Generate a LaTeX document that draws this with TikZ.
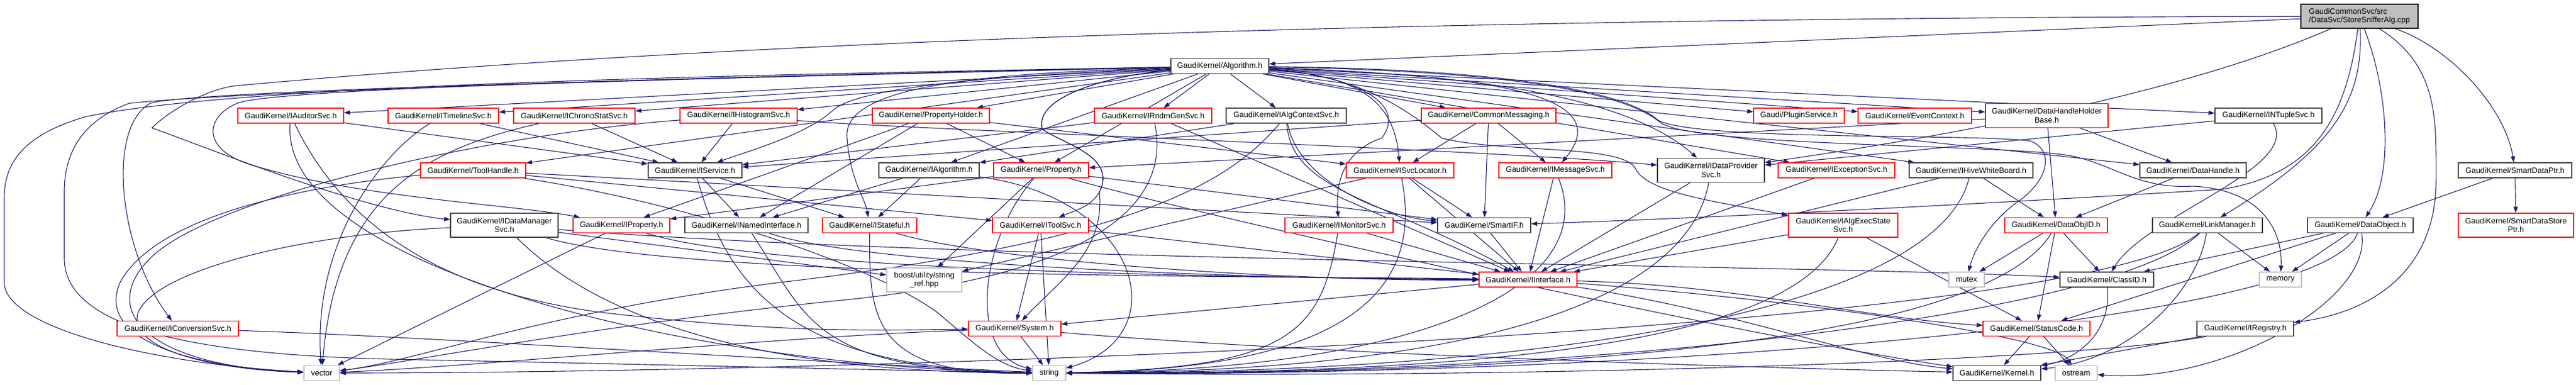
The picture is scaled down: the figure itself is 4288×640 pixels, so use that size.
\documentclass[tikz,border=0pt]{standalone}
\usepackage{fontspec}
\setmainfont{Liberation Sans}
\usetikzlibrary{arrows.meta}
\pgfdeclarelayer{bg}
\pgfsetlayers{bg,main}
\definecolor{edgec}{HTML}{191970}
\definecolor{redb}{HTML}{FF0000}
\definecolor{blkb}{HTML}{404040}
\definecolor{gryb}{HTML}{BFBFBF}
\tikzset{
  bx/.style={draw, line width=1.3pt, fill=white, inner sep=0pt, minimum height=25pt, font=\fontsize{13}{14.5}\selectfont, align=center},
  rb/.style={bx, draw=redb},
  kb/.style={bx, draw=blkb},
  gb/.style={bx, draw=gryb},
  tall/.style={minimum height=40pt},
  e/.style={draw=edgec, line width=1.1pt, -{Triangle[length=10pt,width=7pt]}},
}
\newcommand\cv[4]{\draw[e] (#1) .. controls +#3 and +#4 .. (#2);}
\begin{document}
\begin{tikzpicture}[x=1pt,y=-1pt]
\useasboundingbox (0,0) rectangle (4288,640);
% ---------- nodes ----------
\node[bx, draw=black, fill=gryb, tall, minimum width=195pt, align=left] (root) at (3927.5,27) {GaudiCommonSvc/src\\/DataSvc/StoreSnifferAlg.cpp};
\node[kb, minimum width=163pt] (alg) at (2030.5,110) {GaudiKernel/Algorithm.h};
% row 2
\node[rb, minimum width=176pt] (auditor) at (484,192.5) {GaudiKernel/IAuditorSvc.h};
\node[rb, minimum width=184pt] (timeline) at (738,192.5) {GaudiKernel/ITimelineSvc.h};
\node[rb, minimum width=202pt] (chrono) at (956,192.5) {GaudiKernel/IChronoStatSvc.h};
\node[rb, minimum width=195pt] (histo) at (1229.5,192.5) {GaudiKernel/IHistogramSvc.h};
\node[rb, minimum width=195pt] (propholder) at (1549.5,192.5) {GaudiKernel/PropertyHolder.h};
\node[rb, minimum width=195pt] (rndm) at (1919.5,192.5) {GaudiKernel/IRndmGenSvc.h};
\node[kb, minimum width=200pt] (algctx) at (2141,192.5) {GaudiKernel/IAlgContextSvc.h};
\node[rb, minimum width=224pt] (commonmsg) at (2478,192.5) {GaudiKernel/CommonMessaging.h};
\node[rb, minimum width=151pt] (plugin) at (2994.5,192.5) {Gaudi/PluginService.h};
\node[rb, minimum width=189pt] (evtctx) at (3187.5,192.5) {GaudiKernel/EventContext.h};
\node[rb, tall, minimum width=204pt] (dhhb) at (3407,192.5) {GaudiKernel/DataHandleHolder\\Base.h};
\node[kb, minimum width=178pt] (ntuple) at (3776,192.5) {GaudiKernel/INTupleSvc.h};
% row 3
\node[rb, minimum width=175pt] (toolhandle) at (787.5,283.5) {GaudiKernel/ToolHandle.h};
\node[kb, minimum width=156pt] (iservice) at (1157,283.5) {GaudiKernel/IService.h};
\node[kb, minimum width=167pt] (ialgorithm) at (1546.5,283.5) {GaudiKernel/IAlgorithm.h};
\node[rb, minimum width=158pt] (property) at (1733,283.5) {GaudiKernel/Property.h};
\node[rb, minimum width=179pt] (isvcloc) at (2330.5,283.5) {GaudiKernel/ISvcLocator.h};
\node[rb, minimum width=188pt] (imsgsvc) at (2589,283.5) {GaudiKernel/IMessageSvc.h};
\node[kb, tall, minimum width=178pt] (idataprov) at (2848,283.5) {GaudiKernel/IDataProvider\\Svc.h};
\node[rb, minimum width=194pt] (iexcept) at (3057,283.5) {GaudiKernel/IExceptionSvc.h};
\node[kb, minimum width=206pt] (ihive) at (3281,283.5) {GaudiKernel/IHiveWhiteBoard.h};
\node[kb, minimum width=177pt] (datahandle) at (3650.5,283.5) {GaudiKernel/DataHandle.h};
\node[kb, minimum width=189pt] (smartdataptr) at (4186.5,283.5) {GaudiKernel/SmartDataPtr.h};
% row 4
\node[kb, tall, minimum width=179pt] (idatamgr) at (839.5,375) {GaudiKernel/IDataManager\\Svc.h};
\node[rb, minimum width=161pt] (iproperty) at (1034.5,375) {GaudiKernel/IProperty.h};
\node[kb, minimum width=205pt] (inamed) at (1242.5,375) {GaudiKernel/INamedInterface.h};
\node[rb, minimum width=157pt] (istateful) at (1447.5,375) {GaudiKernel/IStateful.h};
\node[rb, minimum width=160pt] (itoolsvc) at (1732,375) {GaudiKernel/IToolSvc.h};
\node[rb, minimum width=180pt] (imonitor) at (2229,375) {GaudiKernel/IMonitorSvc.h};
\node[kb, minimum width=155pt] (smartif) at (2470.5,375) {GaudiKernel/SmartIF.h};
\node[rb, tall, minimum width=182pt] (iexecstate) at (3068,375) {GaudiKernel/IAlgExecState\\Svc.h};
\node[rb, minimum width=171pt] (dataobjid) at (3422.5,375) {GaudiKernel/DataObjID.h};
\node[kb, minimum width=183pt] (linkmgr) at (3674.5,375) {GaudiKernel/LinkManager.h};
\node[kb, minimum width=176pt] (dataobject) at (3929,375) {GaudiKernel/DataObject.h};
\node[rb, tall, minimum width=192pt] (smartdatastore) at (4188,375) {GaudiKernel/SmartDataStore\\Ptr.h};
% row 5
\node[gb, tall, minimum width=125pt] (boost) at (1538.5,466) {boost/utility/string\\\_ref.hpp};
\node[rb, minimum width=163pt] (iinterface) at (2543.5,465.5) {GaudiKernel/IInterface.h};
\node[gb, minimum width=59pt] (mutex) at (3273.5,465.5) {mutex};
\node[kb, minimum width=156pt] (classid) at (3507,465.5) {GaudiKernel/ClassID.h};
\node[gb, minimum width=70pt] (memory) at (3796,465.5) {memory};
% row 6
\node[rb, minimum width=202pt] (iconv) at (296,547) {GaudiKernel/IConversionSvc.h};
\node[rb, minimum width=154pt] (system) at (1689,547) {GaudiKernel/System.h};
\node[rb, minimum width=178pt] (statuscode) at (3390,547) {GaudiKernel/StatusCode.h};
\node[kb, minimum width=161pt] (iregistry) at (3737.5,547) {GaudiKernel/IRegistry.h};
% row 7
\node[gb, minimum width=59pt] (vector) at (535.5,621) {vector};
\node[gb, minimum width=55pt] (string) at (1746.5,621) {string};
\node[kb, minimum width=146pt] (kernel) at (3324,621) {GaudiKernel/Kernel.h};
\node[gb, minimum width=70pt] (ostream) at (3456,621) {ostream};
% ---------- edges ----------
\begin{pgfonlayer}{bg}
\fill[white] (0,0) rectangle (4288,640);
% root
\draw[e] (root) -- (alg);
\draw[e] (root) .. controls (2500,30) and (1300,60) .. (390,143) .. controls (330,152) and (270,195) .. (253,213) .. controls (330,240) and (600,350) .. (idatamgr);
\draw[e] (root) .. controls (3600,170) and (3150,240) .. (idataprov);
\draw[e] (root) .. controls (3905,200) and (3850,290) .. (3700,315) .. controls (3300,340) and (2800,365) .. (smartif);
\draw[e] (root) .. controls (3935,170) and (3880,250) .. (linkmgr);
\draw[e] (root) .. controls (3975,150) and (3985,290) .. (dataobject);
\draw[e] (root) .. controls (4060,110) and (4055,200) .. (4055,300) .. controls (4055,450) and (3950,520) .. (iregistry);
\draw[e] (root) .. controls (4080,80) and (4170,180) .. (smartdataptr);
% Algorithm.h
\foreach \t in {auditor,timeline,chrono,histo,propholder,rndm,algctx,commonmsg,plugin,evtctx,dhhb,ntuple,toolhandle,ialgorithm,property,ihive,iexcept,datahandle}
  \draw[e] (alg) -- (\t);
\draw[e] (alg) .. controls (1600,128) and (1420,150) .. (1385,185) .. controls (1340,225) and (1250,250) .. (iservice);
\draw[e] (alg) .. controls (1650,122) and (1400,140) .. (1410,230) .. controls (1415,300) and (1440,330) .. (istateful);
\draw[e] (alg) .. controls (1850,125) and (1720,160) .. (1735,215) .. controls (1770,240) and (1860,260) .. (1830,320) .. controls (1815,345) and (1790,350) .. (itoolsvc);
\draw[e] (alg) .. controls (1850,125) and (1720,160) .. (1735,215) .. controls (1770,240) and (1860,260) .. (1830,320) .. controls (1840,420) and (1760,470) .. (system);
\draw[e] (alg) .. controls (2250,125) and (2320,160) .. (isvcloc);
\draw[e] (alg) .. controls (2450,125) and (2700,150) .. (imsgsvc);
\draw[e] (alg) .. controls (2500,125) and (2720,170) .. (idataprov);
\draw[e] (alg) .. controls (2250,125) and (2345,170) .. (2300,230) .. controls (2240,250) and (2222,300) .. (imonitor);
\draw[e] (alg) .. controls (2260,125) and (2340,180) .. (2400,230) .. controls (2500,255) and (2700,240) .. (2722,280) .. controls (2740,320) and (2850,335) .. (iexecstate);
\draw[e] (alg) .. controls (1300,126) and (460,145) .. (395,172) .. controls (340,195) and (335,250) .. (420,275) .. controls (600,330) and (850,340) .. (iproperty);
\draw[e] (alg) .. controls (1300,128) and (330,148) .. (250,172) .. controls (175,215) and (200,420) .. (iconv);
\draw[e] (alg) .. controls (1300,124) and (400,138) .. (140,195) .. controls (40,225) and (7,270) .. (7,330) -- (7,470) .. controls (7,545) and (250,605) .. (vector);
\draw[e] (alg) .. controls (1300,126) and (420,150) .. (215,172) .. controls (140,200) and (107,250) .. (107,320) -- (107,430) .. controls (107,540) and (300,590) .. (650,598) .. controls (1100,607) and (1450,616) .. (string);
\draw[e] (alg) .. controls (2500,115) and (2700,150) .. (2760,200) .. controls (2820,235) and (3300,222) .. (3380,235) .. controls (3420,250) and (3410,300) .. (3360,335) .. controls (3310,370) and (3285,420) .. (mutex);
\draw[e] (alg) .. controls (2500,118) and (2700,150) .. (2765,205) .. controls (2830,245) and (3350,240) .. (3450,260) .. controls (3520,275) and (3560,315) .. (3650,310) .. controls (3760,315) and (3800,380) .. (memory);
% row 2 sources
\draw[e] (auditor) -- (iservice);
\cv{auditor}{string}{(-20,250)}{(-600,-10)}
\draw[e] (auditor) .. controls (560,350) and (700,480) .. (1000,520) .. controls (1300,555) and (1450,550) .. (system);
\draw[e] (timeline) -- (iservice);
\draw[e] (timeline) .. controls (640,250) and (520,400) .. (vector);
\draw[e] (chrono) -- (iservice);
\draw[e] (chrono) .. controls (700,250) and (560,330) .. (vector);
\draw[e] (histo) -- (iservice);
\draw[e] (histo) .. controls (1500,215) and (2500,250) .. (idataprov);
\draw[e] (histo) .. controls (800,225) and (350,330) .. (250,430) .. controls (160,520) and (250,610) .. (vector);
\foreach \t in {property,iproperty,inamed,isvcloc} \draw[e] (propholder) -- (\t);
\draw[e] (rndm) -- (iservice);
\draw[e] (rndm) -- (iinterface);
\draw[e] (rndm) .. controls (1960,390) and (1700,470) .. (1400,500) .. controls (1000,540) and (700,600) .. (vector);
\draw[e] (algctx) -- (ialgorithm);
\draw[e] (algctx) .. controls (2050,300) and (1900,400) .. (1300,470) .. controls (900,520) and (700,600) .. (vector);
\draw[e] (algctx) .. controls (2150,320) and (2300,330) .. (iinterface);
\draw[e] (algctx) .. controls (2160,300) and (2300,360) .. (smartif);
\foreach \t in {iservice,isvcloc,smartif,imsgsvc} \draw[e] (commonmsg) -- (\t);
\foreach \t in {dataobjid,datahandle,property} \draw[e] (dhhb) -- (\t);
\draw[e] (ntuple) -- (idataprov);
\draw[e] (ntuple) .. controls (3830,280) and (3570,360) .. (classid);
% row 3 sources
\draw[e] (toolhandle) -- (itoolsvc);
\draw[e] (toolhandle) -- (smartif);
\draw[e] (toolhandle) .. controls (500,310) and (260,360) .. (200,470) .. controls (160,560) and (300,610) .. (vector);
\draw[e] (toolhandle) .. controls (1150,340) and (1450,440) .. (1560,520) .. controls (1620,570) and (1660,610) .. (string);
\draw[e] (iservice) -- (inamed);
\draw[e] (iservice) -- (istateful);
\cv{iservice}{string}{(60,220)}{(-400,-8)}
\draw[e] (ialgorithm) -- (inamed);
\draw[e] (ialgorithm) -- (istateful);
\draw[e] (ialgorithm) .. controls (1900,330) and (1960,560) .. (string);
\draw[e] (property) -- (iproperty);
\draw[e] (property) -- (boost);
\draw[e] (property) -- (smartif);
\draw[e] (property) .. controls (1630,400) and (1610,590) .. (string);
\draw[e] (property) .. controls (2000,360) and (2900,560) .. (kernel);
\draw[e] (isvcloc) -- (smartif);
\draw[e] (isvcloc) -- (iinterface);
\draw[e] (isvcloc) -- (boost);
\cv{isvcloc}{string}{(40,200)}{(500,-6)}
\draw[e] (imsgsvc) -- (iinterface);
\cv{imsgsvc}{string}{(80,200)}{(600,-4)}
\draw[e] (idataprov) -- (iinterface);
\cv{idataprov}{string}{(-40,220)}{(700,-2)}
\draw[e] (iexcept) -- (iinterface);
\draw[e] (ihive) -- (dataobjid);
\draw[e] (ihive) -- (iinterface);
\cv{ihive}{string}{(-60,240)}{(800,0)}
\draw[e] (datahandle) -- (dataobjid);
\draw[e] (smartdataptr) -- (dataobject);
\draw[e] (smartdataptr) -- (smartdatastore);
% row 4 sources
\cv{idatamgr}{iinterface}{(300,90)}{(-400,-6)}
\draw[e] (idatamgr) .. controls (1600,435) and (3000,440) .. (classid);
\draw[e] (idatamgr) -- (boost);
\cv{idatamgr}{string}{(150,150)}{(-500,0)}
\draw[e] (idatamgr) .. controls (500,390) and (260,450) .. (230,520) .. controls (210,580) and (350,615) .. (vector);
\cv{iproperty}{iinterface}{(250,80)}{(-400,-3)}
\draw[e] (iproperty) -- (vector);
\cv{inamed}{iinterface}{(200,70)}{(-400,0)}
\cv{inamed}{string}{(100,150)}{(-400,-4)}
\cv{istateful}{iinterface}{(200,60)}{(-400,3)}
\cv{istateful}{string}{(0,150)}{(-300,4)}
\draw[e] (itoolsvc) -- (system);
\draw[e] (itoolsvc) -- (string);
\draw[e] (itoolsvc) -- (iinterface);
\draw[e] (imonitor) -- (iinterface);
\cv{imonitor}{string}{(-30,180)}{(400,-8)}
\draw[e] (smartif) -- (iinterface);
\draw[e] (iexecstate) -- (iinterface);
\draw[e] (iexecstate) -- (statuscode);
\cv{iexecstate}{string}{(-80,200)}{(700,2)}
\draw[e] (dataobjid) -- (mutex);
\draw[e] (dataobjid) -- (classid);
\draw[e] (dataobjid) -- (statuscode);
\cv{dataobjid}{string}{(-120,200)}{(800,4)}
\draw[e] (linkmgr) -- (memory);
\draw[e] (linkmgr) .. controls (3660,480) and (3550,600) .. (kernel);
\cv{linkmgr}{string}{(-150,150)}{(900,6)}
\cv{linkmgr}{vector}{(-200,180)}{(900,0)}
\draw[e] (dataobject) -- (classid);
\draw[e] (dataobject) -- (memory);
\draw[e] (dataobject) -- (statuscode);
\draw[e] (dataobject) .. controls (3950,500) and (3700,640) .. (ostream);
\cv{dataobject}{string}{(-60,170)}{(900,8)}
% lower rows
\draw[e] (classid) .. controls (3515,560) and (3450,600) .. (kernel);
\draw[e] (iregistry) -- (kernel);
\cv{iregistry}{string}{(-250,50)}{(900,10)}
\draw[e] (statuscode) -- (kernel);
\draw[e] (statuscode) -- (ostream);
\draw[e] (iinterface) -- (system);
\draw[e] (iinterface) .. controls (2900,520) and (3100,600) .. (kernel);
\draw[e] (iinterface) .. controls (2900,475) and (3100,530) .. (statuscode);
\draw[e] (iinterface) .. controls (3000,500) and (3420,560) .. (ostream);
\draw[e] (system) -- (string);
\draw[e] (system) .. controls (1300,560) and (800,610) .. (vector);
\draw[e] (system) .. controls (2200,590) and (2900,612) .. (kernel);
\draw[e] (iconv) .. controls (700,560) and (1300,600) .. (string);
\end{pgfonlayer}
\end{tikzpicture}
\end{document}
